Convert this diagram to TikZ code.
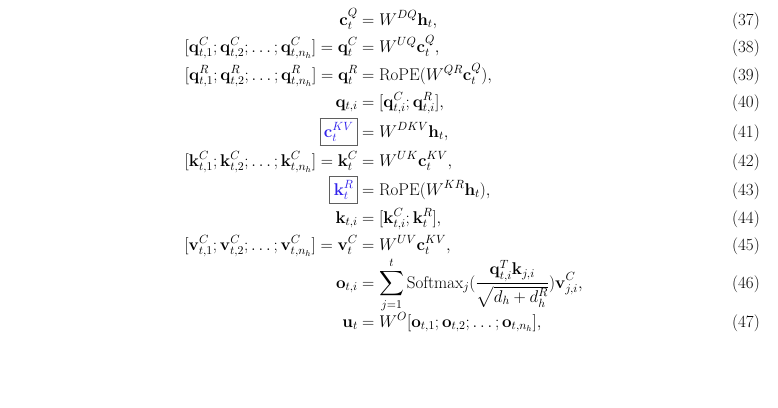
\RequirePackage{fix-cm}
\documentclass[tikz,border=0pt]{standalone}
\usepackage{amsmath}
\usepackage{xcolor}
\definecolor{kvblue}{RGB}{50,35,235}
\definecolor{boxgray}{RGB}{95,95,95}
\newcommand{\bv}[1]{\mathbf{#1}}
\newcommand{\kvbox}[1]{{\setlength{\fboxsep}{3.5pt}\setlength{\fboxrule}{0.8pt}\fcolorbox{boxgray}{white}{$\color{kvblue}#1$}}}
\begin{document}
\begin{tikzpicture}[x=1pt,y=-1pt,
  every node/.style={inner sep=0pt,font=\fontsize{17}{20}\selectfont},
  lhs/.style={anchor=base east},
  rhs/.style={anchor=base west},
  num/.style={anchor=base east}]
\useasboundingbox (0,0) rectangle (778,407);
% 37
\node[lhs] (l37) at (358,25) {$\bv{c}^{Q}_{t}$};
\node[rhs] (r37) at (362,25) {$= W^{DQ}\bv{h}_{t},$};
\node[num] (n37) at (760,25) {(37)};
% 38
\node[lhs] (l38) at (358,52) {$[\bv{q}^{C}_{t,1};\bv{q}^{C}_{t,2};\ldots;\bv{q}^{C}_{t,n_h}] = \bv{q}^{C}_{t}$};
\node[rhs] (r38) at (362,52) {$= W^{UQ}\bv{c}^{Q}_{t},$};
\node[num] (n38) at (760,52) {(38)};
% 39
\node[lhs] (l39) at (358,80) {$[\bv{q}^{R}_{t,1};\bv{q}^{R}_{t,2};\ldots;\bv{q}^{R}_{t,n_h}] = \bv{q}^{R}_{t}$};
\node[rhs] (r39) at (362,80) {$= \mathrm{RoPE}(W^{QR}\bv{c}^{Q}_{t}),$};
\node[num] (n39) at (760,80) {(39)};
% 40
\node[lhs] (l40) at (358,107) {$\bv{q}_{t,i}$};
\node[rhs] (r40) at (362,107) {$= [\bv{q}^{C}_{t,i};\bv{q}^{R}_{t,i}],$};
\node[num] (n40) at (760,107) {(40)};
% 41
\node[lhs] (l41) at (358,137) {\kvbox{\bv{c}^{KV}_{t}}};
\node[rhs] (r41) at (362,137) {$= W^{DKV}\bv{h}_{t},$};
\node[num] (n41) at (760,137) {(41)};
% 42
\node[lhs] (l42) at (358,166) {$[\bv{k}^{C}_{t,1};\bv{k}^{C}_{t,2};\ldots;\bv{k}^{C}_{t,n_h}] = \bv{k}^{C}_{t}$};
\node[rhs] (r42) at (362,166) {$= W^{UK}\bv{c}^{KV}_{t},$};
\node[num] (n42) at (760,166) {(42)};
% 43
\node[lhs] (l43) at (358,195) {\kvbox{\bv{k}^{R}_{t}}};
\node[rhs] (r43) at (362,195) {$= \mathrm{RoPE}(W^{KR}\bv{h}_{t}),$};
\node[num] (n43) at (760,195) {(43)};
% 44
\node[lhs] (l44) at (358,223) {$\bv{k}_{t,i}$};
\node[rhs] (r44) at (362,223) {$= [\bv{k}^{C}_{t,i};\bv{k}^{R}_{t}],$};
\node[num] (n44) at (760,223) {(44)};
% 45
\node[lhs] (l45) at (358,250) {$[\bv{v}^{C}_{t,1};\bv{v}^{C}_{t,2};\ldots;\bv{v}^{C}_{t,n_h}] = \bv{v}^{C}_{t}$};
\node[rhs] (r45) at (362,250) {$= W^{UV}\bv{c}^{KV}_{t},$};
\node[num] (n45) at (760,250) {(45)};
% 46
\node[lhs] (l46) at (358,288) {$\bv{o}_{t,i}$};
\node[rhs] (r46) at (362,288) {$\displaystyle = \sum_{j=1}^{t}\mathrm{Softmax}_{j}(\frac{\bv{q}^{T}_{t,i}\bv{k}_{j,i}}{\sqrt{d_h+d^{R}_{h}}})\bv{v}^{C}_{j,i},$};
\node[num] (n46) at (760,288) {(46)};
% 47
\node[lhs] (l47) at (358,327) {$\bv{u}_{t}$};
\node[rhs] (r47) at (362,327) {$= W^{O}[\bv{o}_{t,1};\bv{o}_{t,2};\ldots;\bv{o}_{t,n_h}],$};
\node[num] (n47) at (760,327) {(47)};
\end{tikzpicture}
\end{document}
